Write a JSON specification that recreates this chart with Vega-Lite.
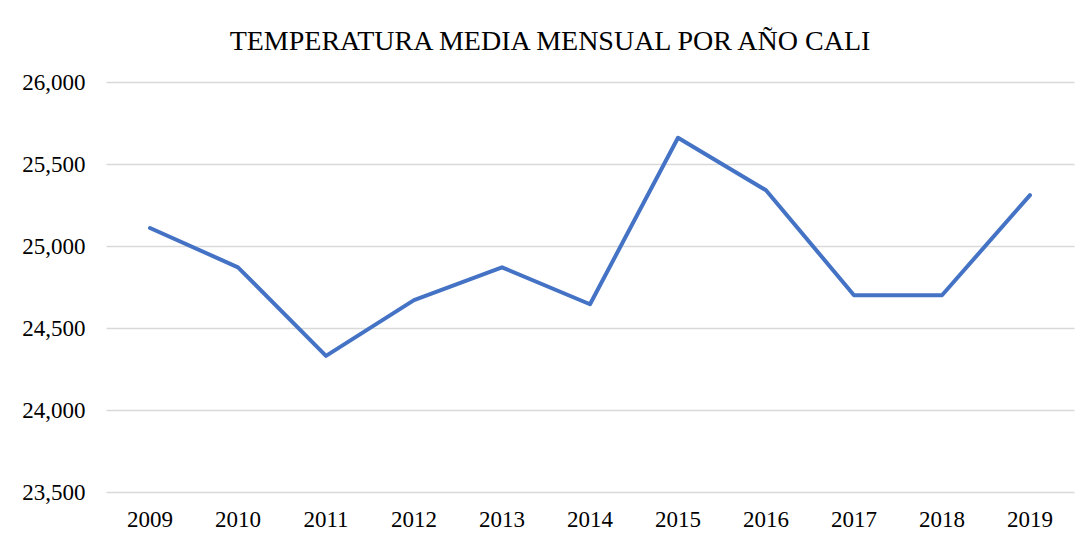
{
  "$schema": "https://vega.github.io/schema/vega-lite/v6.json",
  "autosize": "none",
  "width": 968,
  "height": 410,
  "padding": {"left": 106, "top": 82, "right": 4, "bottom": 45},
  "background": "white",
  "config": {
    "locale": {"number": {"decimal": ",", "thousands": ".", "grouping": [3], "currency": ["$", ""]}},
    "view": {"stroke": null},
    "font": "Liberation Serif"
  },
  "title": {
    "text": "TEMPERATURA MEDIA MENSUAL POR AÑO CALI",
    "font": "Liberation Serif",
    "fontSize": 28,
    "fontWeight": "normal",
    "color": "#000000",
    "anchor": "middle",
    "dx": -40,
    "offset": 15
  },
  "data": {
    "values": [
      {"year": "2009", "temp": 25.11},
      {"year": "2010", "temp": 24.87},
      {"year": "2011", "temp": 24.33},
      {"year": "2012", "temp": 24.67},
      {"year": "2013", "temp": 24.87},
      {"year": "2014", "temp": 24.645},
      {"year": "2015", "temp": 25.66},
      {"year": "2016", "temp": 25.34},
      {"year": "2017", "temp": 24.70},
      {"year": "2018", "temp": 24.70},
      {"year": "2019", "temp": 25.31}
    ]
  },
  "mark": {"type": "line", "color": "#4472C4", "strokeWidth": 4, "strokeCap": "round", "strokeJoin": "round"},
  "encoding": {
    "x": {
      "field": "year",
      "type": "ordinal",
      "title": null,
      "scale": {"type": "band", "paddingInner": 0, "paddingOuter": 0},
      "axis": {
        "labelAngle": 0,
        "labelFont": "Liberation Serif",
        "labelFontSize": 23,
        "labelColor": "#000000",
        "labelPadding": 16,
        "ticks": false,
        "domain": false,
        "grid": false
      }
    },
    "y": {
      "field": "temp",
      "type": "quantitative",
      "title": null,
      "scale": {"domain": [23.5, 26], "nice": false, "zero": false},
      "axis": {
        "values": [23.5, 24, 24.5, 25, 25.5, 26],
        "format": ".3f",
        "labelFont": "Liberation Serif",
        "labelFontSize": 23,
        "labelColor": "#000000",
        "labelPadding": 21,
        "ticks": false,
        "domain": false,
        "grid": true,
        "gridColor": "#d9d9d9",
        "gridWidth": 1.3
      }
    }
  }
}
